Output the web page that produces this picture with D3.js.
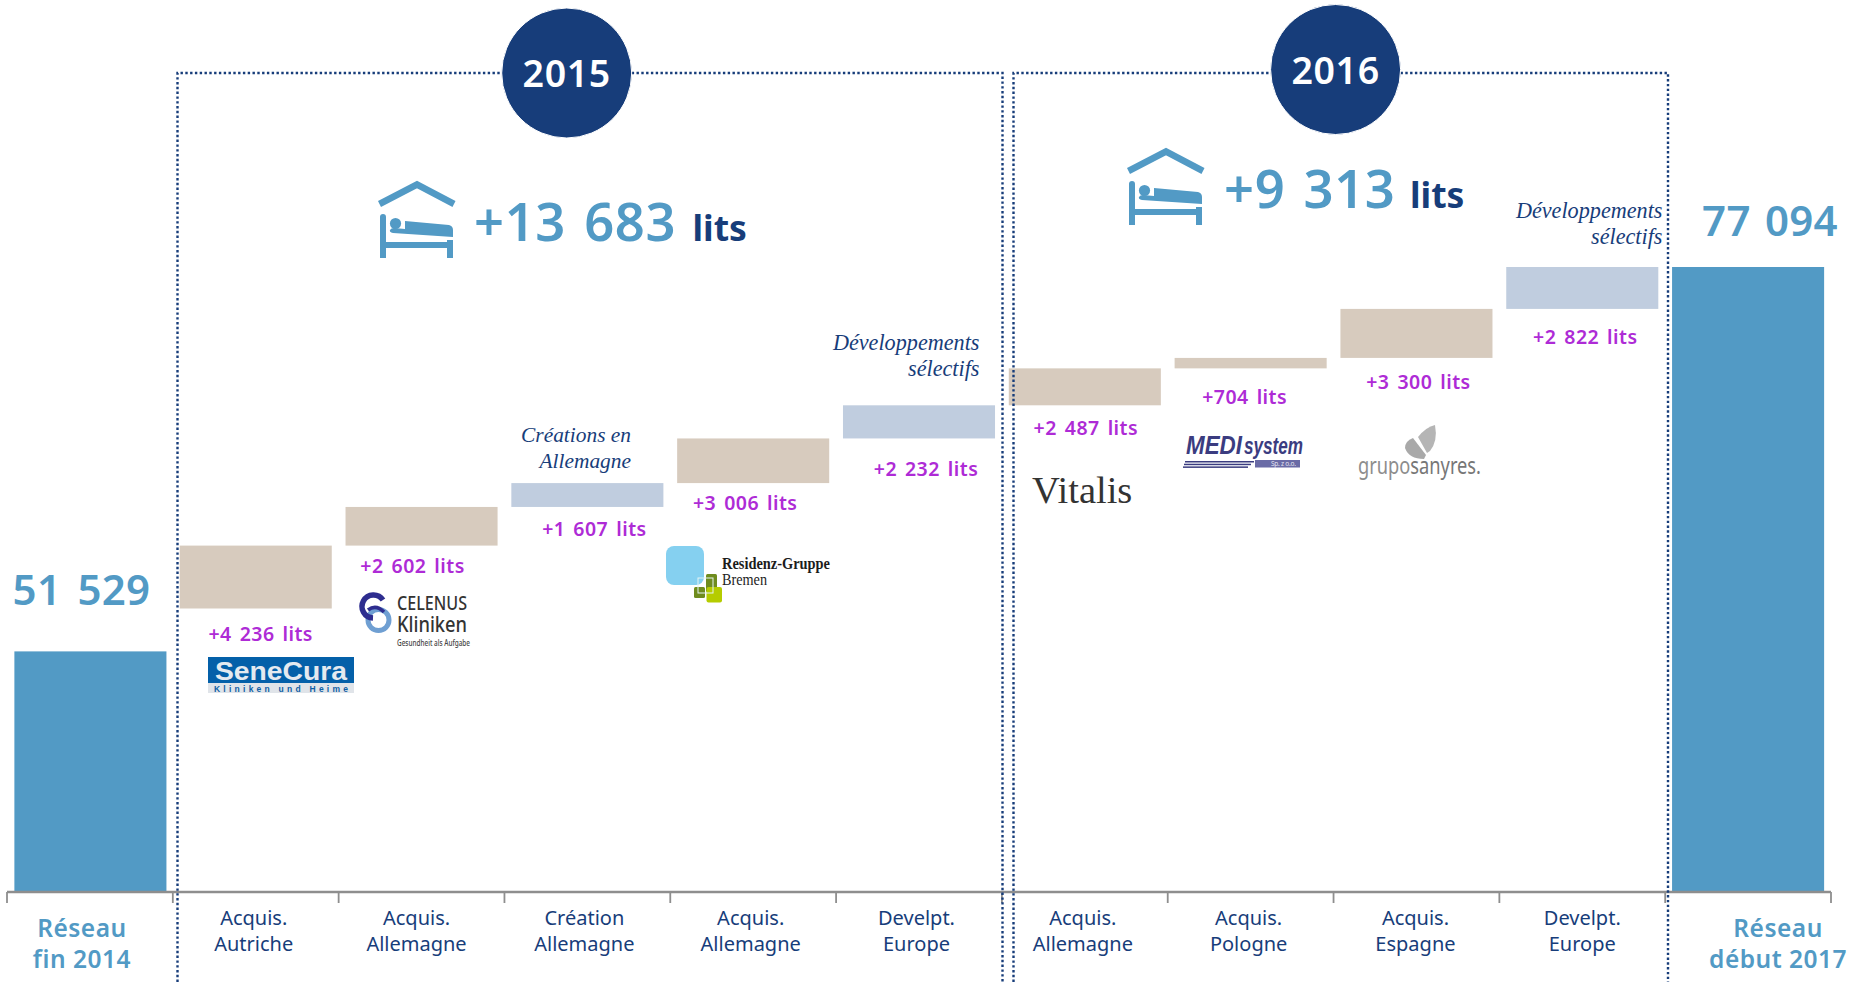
<!DOCTYPE html>
<html lang="fr"><head><meta charset="utf-8">
<script src="https://cdn.jsdelivr.net/npm/d3@7"></script>
<style>html,body{margin:0;background:#fff}svg{display:block}text{font-family:"Noto Sans",sans-serif}</style>
</head><body><div id="c"></div>
<script>
const categories = [["Réseau","fin 2014"],["Acquis.","Autriche"],["Acquis.","Allemagne"],["Création","Allemagne"],["Acquis.","Allemagne"],["Develpt.","Europe"],["Acquis.","Allemagne"],["Acquis.","Pologne"],["Acquis.","Espagne"],["Develpt.","Europe"],["Réseau","début 2017"]];
const totalValues = [51529, 77094];
const stepValues = [4236, 2602, 1607, 3006, 2232, 2487, 704, 3300, 2822];
const stepKinds = ["a","a","c","a","c","a","a","a","c"];
const stepLabels = ["+4 236 lits","+2 602 lits","+1 607 lits","+3 006 lits","+2 232 lits","+2 487 lits","+704 lits","+3 300 lits","+2 822 lits"];
const totalLabels = ["51 529","77 094"];
const yearLabels = ["2015","2016"];
const yearGains = ["+13 683","+9 313"];

// layout (kept apart from the data)
const W=1856,H=982;
const C={blue:"#529ac5",navy:"#173d7a",purple:"#ae2bd6",tan:"#d7cbbe",pale:"#c0cddf",axis:"#8e8e8e"};
const labelOffsets=[[5,32.5],[-9,27.5],[7,29],[-8,27],[7,38],[1,30],[-6,36],[2,31],[3,35]];
const categoryOffsets=[-8,-2,-5,-3,-2.5,-2.5,-2,-2,-1,0,30];
const svg=d3.select("#c").append("svg").attr("width",W).attr("height",H).attr("viewBox",`0 0 ${W} ${H}`);

const x=d3.scaleBand().domain(d3.range(categories.length)).range([7,1831]).paddingInner(0.083).paddingOuter(0.0415);
const yTotal=d3.scaleLinear().domain([35593,77094]).range([891,267]);
const stepStart=totalValues[1]-d3.sum(stepValues);
const yStep=d3.scaleLinear().domain([stepStart,totalValues[1]]).range([608.5,267]);
const fill={a:C.tan,c:C.pale};
const stepData=stepValues.map((v,i)=>({v,i,base:stepStart+d3.sum(stepValues.slice(0,i))}));

// total bars
svg.selectAll("rect.total").data(totalValues).join("rect").attr("class","total")
 .attr("x",(d,i)=>x(i?10:0)+(i?0:0.5)).attr("width",x.bandwidth())
 .attr("y",d=>yTotal(d)).attr("height",d=>yTotal.range()[0]-yTotal(d)).attr("fill",C.blue);
// step bars
svg.selectAll("rect.step").data(stepData).join("rect").attr("class","step")
 .attr("x",d=>x(d.i+1)).attr("width",x.bandwidth())
 .attr("y",d=>yStep(d.base+d.v)).attr("height",d=>yStep(d.base)-yStep(d.base+d.v))
 .attr("fill",d=>fill[stepKinds[d.i]]);
// step labels
svg.selectAll("text.step").data(stepData).join("text").attr("class","step")
 .attr("x",d=>x(d.i+1)+x.bandwidth()/2+labelOffsets[d.i][0])
 .attr("y",d=>yStep(d.base)+labelOffsets[d.i][1])
 .attr("text-anchor","middle").attr("fill",C.purple).attr("font-size",19.5).attr("font-weight",600)
 .attr("letter-spacing",0.45).attr("word-spacing",2.5).text(d=>stepLabels[d.i]);
// total labels
[[81.5,605,0,5],[1770,236,1,3]].forEach(([a,b,i,ws])=>svg.append("text").attr("x",a).attr("y",b).attr("text-anchor","middle")
 .attr("fill",C.blue).attr("font-size",42).attr("font-weight",600).attr("word-spacing",ws).attr("letter-spacing",0.3).text(totalLabels[i]));

// axis
const edges=d3.range(categories.length+1).map(i=>7+i*x.step());
const axis=svg.append("g").attr("stroke",C.axis).attr("fill","none");
axis.append("path").attr("d",`M${edges[0]},892H${edges[edges.length-1]}`).attr("stroke-width",2.4);
axis.selectAll("line").data(edges).join("line").attr("x1",d=>d).attr("x2",d=>d).attr("y1",892).attr("y2",903).attr("stroke-width",1.8);
// category labels
categories.forEach((c,i)=>{
  const edge=i===0||i===10;
  const cx=x(i)+x.bandwidth()/2+categoryOffsets[i];
  c.forEach((t,j)=>svg.append("text").attr("x",cx).attr("y",(edge?937:925)+j*(edge?31:26))
    .attr("text-anchor","middle").attr("fill",edge?C.blue:C.navy)
    .attr("font-size",edge?24.5:20).attr("font-weight",edge?600:400).attr("letter-spacing",edge?0.5:0).text(t));
});

// dotted year boxes
[[177.5,1002.5,73],[1013.5,1668,73]].forEach(([a,b,t])=>svg.append("path")
 .attr("d",`M${a},982V${t}H${b}V982`).attr("fill","none").attr("stroke",C.navy)
 .attr("stroke-width",2.4).attr("stroke-dasharray","2.4 2.4"));
// year circles
[[566.7,73],[1335.6,69.5]].forEach(([a,b],i)=>{
  svg.append("circle").attr("cx",a).attr("cy",b).attr("r",65).attr("fill",C.navy).attr("stroke","#fff").attr("stroke-width",1);
  svg.append("text").attr("x",a).attr("y",b+14).attr("text-anchor","middle").attr("fill","#fff").attr("font-size",37.5).attr("font-weight",600).attr("letter-spacing",0.6).text(yearLabels[i]);
});
// bed icons & gains
function bed(ox,oy){
  const g=svg.append("g").attr("transform",`translate(${ox},${oy})`).attr("fill",C.blue);
  g.append("path").attr("d","M1.5,23L39,3.5L76,23").attr("fill","none").attr("stroke",C.blue).attr("stroke-width",6.5);
  g.append("path").attr("d","M2,36Q2,33 5,33Q8,33 8,36V61H69V59H75V77H69V67H8V77H2Z");
  g.append("circle").attr("cx",17.5).attr("cy",42.5).attr("r",5.6);
  g.append("path").attr("d","M27,40L71,44Q75,45 75,49V56L15,52Q11,51 12,49Q13,47 16,47L27,48Z");
}
bed(378,181); bed(1127,148);
[[474,241,692.5,0,4],[1224,208,1410,1,4]].forEach(([a,b,c,i,ws])=>{
  svg.append("text").attr("x",a).attr("y",b).attr("fill",C.blue).attr("font-size",52.5).attr("font-weight",600).attr("word-spacing",ws).attr("letter-spacing",0.6).text(yearGains[i]);
  svg.append("text").attr("x",c).attr("y",b).attr("fill",C.navy).attr("font-size",35.5).attr("font-weight",700).text("lits");
});
// italic notes
[[631,441.5,"Créations en",21.4],[631,467.5,"Allemagne",21.4],[979.5,350,"Développements",22.2],[979.5,376,"sélectifs",22.2],[1662.5,218,"Développements",22.2],[1662.5,244,"sélectifs",22.2]].forEach(([a,b,t,s])=>
 svg.append("text").attr("x",a).attr("y",b).attr("text-anchor","end").attr("fill",C.navy).attr("font-style","italic")
  .style("font-family","'Liberation Serif',serif").attr("font-size",s).text(t));

// logos
const lg=svg.append("g");
const T=(a,b,t,o)=>{const e=lg.append("text").attr("x",a).attr("y",b).text(t);Object.entries(o).forEach(([k,v])=>k==="font-family"?e.style(k,v):e.attr(k,v));return e;};
// SeneCura
lg.append("rect").attr("x",208).attr("y",657).attr("width",146).attr("height",36).attr("fill","#e0e4e9");
lg.append("rect").attr("x",208).attr("y",657).attr("width",146).attr("height",26).attr("fill","#0460a9");
T(281,680,"SeneCura",{"text-anchor":"middle","fill":"#e4eaf0","font-family":"'Liberation Sans',sans-serif","font-weight":700,"font-size":25,"textLength":132,"lengthAdjust":"spacingAndGlyphs"});
T(281,691.5,"Kliniken und Heime",{"text-anchor":"middle","fill":"#0f5fa5","font-family":"'Liberation Sans',sans-serif","font-weight":700,"font-size":8.5,"textLength":134,"lengthAdjust":"spacing"});
// Celenus
lg.append("circle").attr("cx",378.5).attr("cy",620).attr("r",10.5).attr("fill","none").attr("stroke","#6f9fd2").attr("stroke-width",5);
lg.append("path").attr("d","M383,600A11.5,11.5 0 1 0 373,618").attr("fill","none").attr("stroke","#2e2d8f").attr("stroke-width",5.5);
lg.append("path").attr("d","M368,610Q376,604 384,612").attr("fill","none").attr("stroke","#2e2d8f").attr("stroke-width",3.5);
T(397,609.5,"CELENUS",{"fill":"#333","font-size":20,"font-weight":500,"textLength":70,"lengthAdjust":"spacingAndGlyphs"});
T(397,632,"Kliniken",{"fill":"#333","font-size":21,"font-weight":500,"textLength":70,"lengthAdjust":"spacingAndGlyphs"});
T(397,646,"Gesundheit als Aufgabe",{"fill":"#444","font-size":8.5,"font-weight":500,"textLength":73,"lengthAdjust":"spacingAndGlyphs"});
// Residenz
lg.append("rect").attr("x",666).attr("y",546).attr("width",38).attr("height",39).attr("rx",8).attr("fill","#85d0f0");
lg.append("rect").attr("x",706).attr("y",574).attr("width",11).attr("height",18).attr("rx",1.5).attr("fill","#6f8c1e");
lg.append("rect").attr("x",694).attr("y",587).attr("width",11).attr("height",11).attr("rx",1.5).attr("fill","#6f8c1e");
lg.append("rect").attr("x",706.5).attr("y",587).attr("width",15.5).attr("height",15.5).attr("rx",2).attr("fill","#b5cc00");
lg.append("rect").attr("x",698).attr("y",578).attr("width",15).attr("height",15).attr("fill","none").attr("stroke","#e6f3f3").attr("stroke-width",1);
T(722,568.5,"Residenz-Gruppe",{"fill":"#1c1c1c","font-family":"'Liberation Serif',serif","font-weight":700,"font-size":16,"textLength":108,"lengthAdjust":"spacingAndGlyphs"});
T(722,584.5,"Bremen",{"fill":"#222","font-family":"'Liberation Serif',serif","font-size":16,"textLength":45,"lengthAdjust":"spacingAndGlyphs"});
// Vitalis
T(1032,503,"Vitalis",{"fill":"#333","font-family":"'Liberation Serif',serif","font-size":38.5});
// MEDIsystem
T(1186,454,"MEDI",{"fill":"#3b3c80","font-family":"'Liberation Sans',sans-serif","font-weight":700,"font-style":"italic","font-size":26,"textLength":56,"lengthAdjust":"spacingAndGlyphs"});
T(1244,454,"system",{"fill":"#3b3c80","font-family":"'Liberation Sans',sans-serif","font-weight":700,"font-style":"italic","font-size":23,"textLength":59,"lengthAdjust":"spacingAndGlyphs"});
[461,463.7,466.4].forEach((b,i)=>lg.append("rect").attr("x",1185-i).attr("y",b).attr("width",69-i*2).attr("height",1.5).attr("fill","#3b3c80"));
lg.append("rect").attr("x",1255).attr("y",460).attr("width",45).attr("height",7.5).attr("fill","#6a6ba6");
T(1271,466.2,"Sp. z o.o.",{"fill":"#e4e4f0","font-size":6.5,"textLength":25,"lengthAdjust":"spacing"});
// Grupo Sanyres
lg.append("path").attr("d","M1418,437Q1426,427 1435,425Q1438,441 1430,451L1427,453Z").attr("fill","#b5b5b5");
lg.append("path").attr("d","M1413,438Q1405,441 1405,448Q1409,459 1424,459L1426,455Z").attr("fill","#a9a9a9");
const gs=lg.append("text").attr("x",1358).attr("y",473.5).attr("font-size",23).attr("textLength",123).attr("lengthAdjust","spacingAndGlyphs");
gs.append("tspan").attr("fill","#8d8d8d").text("grupo");
gs.append("tspan").attr("fill","#777").text("sanyres.");
</script></body></html>
